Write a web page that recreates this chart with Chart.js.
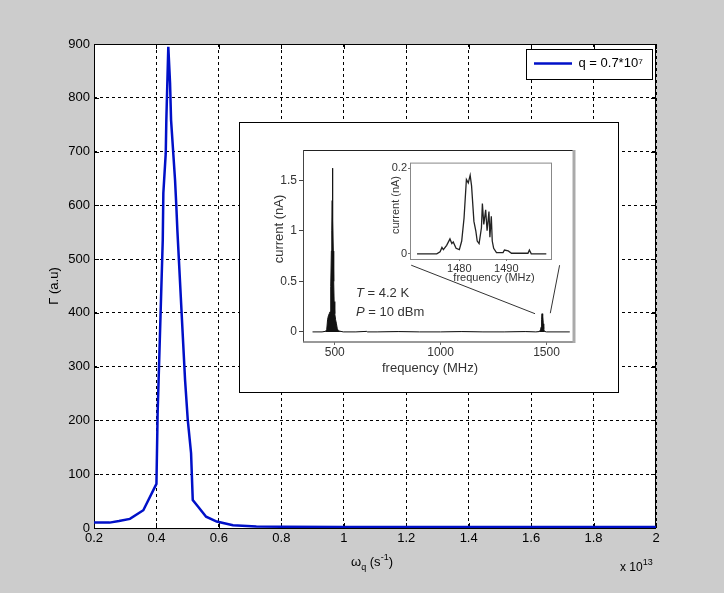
<!DOCTYPE html>
<html>
<head>
<meta charset="utf-8">
<script src="https://cdn.jsdelivr.net/npm/chart.js@4.4.0/dist/chart.umd.min.js"></script>
<style>
  body { margin: 0; background: #cccccc; }
  #wrap { position: relative; width: 724px; height: 593px; background: #cccccc; overflow: hidden;
          font-family: Arial, "Liberation Sans", sans-serif; }
  canvas { position: absolute; }
  #inset { position: absolute; left: 239px; top: 122px; width: 380px; height: 271px;
           box-sizing: border-box; border: 1px solid #000; background: #fff; }
  .t { position: absolute; white-space: nowrap; line-height: 1; }
  .c { transform: translate(-50%, -50%); }
  .r { transform: translate(-50%, -50%) rotate(-90deg); }
  sub { font-size: 9px; vertical-align: -4px; }
  sup { font-size: 9px; vertical-align: 6px; }
</style>
</head>
<body>
<div id="wrap">
  <canvas id="main" width="724" height="593" style="left:0;top:0"></canvas>
  <div id="inset"></div>
  <canvas id="spec" width="377" height="268" style="left:240px;top:123px"></canvas>
  <canvas id="zoomspec" width="180" height="130" style="left:380px;top:155px"></canvas>

  <div class="t c" style="left:372px;top:562px;font-size:13px;">&omega;<sub>q</sub> (s<sup>-1</sup>)</div>
  <div class="t" style="left:620px;top:558px;font-size:12px;">x 10<sup>13</sup></div>

  <div class="t r" style="left:278px;top:229px;font-size:13px;color:#333;">current (nA)</div>
  <div class="t c" style="left:430px;top:367px;font-size:13px;color:#333;">frequency (MHz)</div>
  <div class="t" style="left:356px;top:286px;font-size:13px;color:#333;"><i>T</i> = 4.2 K</div>
  <div class="t" style="left:356px;top:305px;font-size:13px;color:#333;"><i>P</i> = 10 dBm</div>
  <div class="t r" style="left:395px;top:205px;font-size:11px;color:#333;">current (nA)</div>
  <div class="t c" style="left:494px;top:277px;font-size:11px;color:#333;">frequency (MHz)</div>
</div>
<script>
// main curve: omega in units of 1e13 s^-1, Gamma in a.u.
const omega = [0.2, 0.25, 0.28, 0.315, 0.358, 0.4, 0.4038, 0.4202, 0.4221, 0.4298, 0.4317, 0.434,
  0.438, 0.44, 0.4436, 0.4468, 0.4542, 0.4596, 0.4638, 0.467, 0.4917, 0.5003, 0.5109, 0.5163,
  0.533, 0.559, 0.593, 0.645, 0.72, 0.8, 1.0, 2.0];
const gamma = [10, 10, 13, 17, 33, 82, 214, 535, 623, 697, 759, 809,
  895, 895, 827, 759, 694, 647, 597, 554, 275, 201, 139, 52,
  40, 21, 12, 5, 3, 2.5, 2, 2];
const seriesLabel = 'q = 0.7*10\u2077';

const xTickValues = [0.2, 0.4, 0.6, 0.8, 1.0, 1.2, 1.4, 1.6, 1.8, 2.0];
const xTickLabels = ['0.2', '0.4', '0.6', '0.8', '1', '1.2', '1.4', '1.6', '1.8', '2'];
const yTickValues = [0, 100, 200, 300, 400, 500, 600, 700, 800, 900];

// inset spectrum (frequency MHz, current nA)
const freq1 = [395, 440, 455, 462, 466, 470, 474, 478, 481, 484, 486, 488, 489, 490, 491, 493, 495, 497, 500, 504,
  508, 512, 518, 540, 600, 650, 655, 700, 800, 900, 1000, 1100, 1200, 1300, 1400, 1450, 1466, 1472, 1475, 1477,
  1479, 1481, 1483, 1485, 1487, 1490, 1500, 1610];
const cur1 = [0, 0, 0.005, 0.02, 0.12, 0.16, 0.18, 0.2, 0.45, 0.8, 1.0, 1.3, 1.62, 0.7, 1.1, 0.8, 0.5, 0.3, 0.18, 0.12,
  0.08, 0.03, 0.01, 0, 0, 0.005, 0, 0, 0.003, 0, 0, 0.003, 0, 0, 0.003, 0, 0.003, 0.02, 0.05, 0.12,
  0.18, 0.1, 0.15, 0.08, 0.03, 0.005, 0, 0];
const connLeftX = [861, 1446], connLeftY = [0.66, 0.18];
const connRightX = [1562, 1518], connRightY = [0.66, 0.185];
const spec1XTicks = [500, 1000, 1500];
const spec1XLabels = ['500', '1000', '1500'];
const spec1YTicks = [0, 0.5, 1, 1.5];
const spec1YLabels = ['0', '0.5', '1', '1.5'];

// zoomed spectrum around 1480 MHz
const freq2 = [1471, 1475.2, 1475.9, 1476.3, 1476.6, 1477.3, 1478.0, 1478.4, 1478.7, 1479.3,
  1480, 1480.5, 1481, 1481.5, 1481.9, 1482.3, 1482.6, 1483.1, 1483.5, 1483.8,
  1484.2, 1484.7, 1484.9, 1485.2, 1485.6, 1485.9, 1486.3, 1486.5, 1486.8, 1487,
  1487.3, 1487.9, 1489.3, 1489.6, 1490.4, 1491.1, 1494.6, 1494.9, 1495.3, 1498.5];
const cur2 = [0, 0, 0.005, 0.015, 0.01, 0.02, 0.035, 0.024, 0.028, 0.013,
  0.01, 0.03, 0.084, 0.174, 0.166, 0.184, 0.159, 0.076, 0.054, 0.03,
  0.024, 0.061, 0.118, 0.069, 0.103, 0.054, 0.099, 0.039, 0.088, 0.03,
  0.013, 0.003, 0.003, 0.009, 0.007, 0.0015, 0.0015, 0.009, 0, 0];
const spec2XTicks = [1480, 1490];
const spec2XLabels = ['1480', '1490'];
const spec2YTicks = [0, 0.2];
const spec2YLabels = ['0', '0.2'];

Chart.defaults.font.family = 'Arial, "Liberation Sans", sans-serif';

function toPts(xs, ys) {
  return xs.map((x, i) => ({ x: x, y: ys[i] }));
}
function fixedTicks(values) {
  return function (scale) { scale.ticks = values.map(v => ({ value: v })); };
}

// white plot area, black box and inward ticks like matlab
const mainFrame = {
  id: 'mainFrame',
  beforeDraw(chart) {
    const a = chart.chartArea, ctx = chart.ctx;
    ctx.save();
    ctx.fillStyle = '#fff';
    ctx.fillRect(a.left, a.top, a.width, a.height);
    ctx.restore();
  },
  beforeDatasetsDraw(chart) {
    const a = chart.chartArea, ctx = chart.ctx;
    const sx = chart.scales.x, sy = chart.scales.y;
    ctx.save();
    ctx.strokeStyle = '#000';
    ctx.lineWidth = 1;
    ctx.setLineDash([]);
    ctx.strokeRect(a.left + 0.5, a.top + 0.5, a.width - 1, a.height);
    ctx.beginPath();
    xTickValues.forEach(v => {
      const px = Math.round(sx.getPixelForValue(v)) + 0.5;
      ctx.moveTo(px, a.bottom); ctx.lineTo(px, a.bottom - 5);
      ctx.moveTo(px, a.top); ctx.lineTo(px, a.top + 5);
    });
    yTickValues.forEach(v => {
      const py = Math.round(sy.getPixelForValue(v)) + 0.5;
      ctx.moveTo(a.left, py); ctx.lineTo(a.left + 5, py);
      ctx.moveTo(a.right, py); ctx.lineTo(a.right - 5, py);
    });
    ctx.stroke();
    ctx.restore();
  }
};

// put the legend in the top right corner with a white framed box
const legendBox = { left: 526, top: 49, right: 652, bottom: 79 };
const legendPlace = {
  id: 'legendPlace',
  afterLayout(chart) {
    const lg = chart.legend;
    lg.left = legendBox.left; lg.top = legendBox.top;
    lg.right = legendBox.right; lg.bottom = legendBox.bottom;
    lg.width = legendBox.right - legendBox.left;
    lg.height = legendBox.bottom - legendBox.top;
  },
  afterDraw(chart) {
    const ctx = chart.ctx, b = legendBox;
    ctx.save();
    ctx.fillStyle = '#fff';
    ctx.fillRect(b.left, b.top, b.right - b.left, b.bottom - b.top);
    ctx.strokeStyle = '#000';
    ctx.lineWidth = 1;
    ctx.strokeRect(b.left + 0.5, b.top + 0.5, b.right - b.left, b.bottom - b.top);
    ctx.restore();
    chart.legend.draw();
  }
};

new Chart(document.getElementById('main'), {
  type: 'line',
  data: {
    datasets: [{
      label: seriesLabel,
      data: toPts(omega, gamma),
      borderColor: '#0010c8',
      backgroundColor: '#0010c8',
      borderWidth: 2.5,
      pointRadius: 0,
      tension: 0,
      fill: false
    }]
  },
  options: {
    responsive: false,
    animation: false,
    devicePixelRatio: 1,
    layout: { padding: { left: 0, top: 44, right: 68, bottom: 0 } },
    plugins: {
      tooltip: { enabled: false },
      legend: {
        position: 'chartArea',
        align: 'start',
        labels: {
          usePointStyle: true,
          pointStyle: 'line',
          pointStyleWidth: 38,
          padding: 8,
          color: '#000',
          font: { size: 13 }
        }
      }
    },
    scales: {
      x: {
        type: 'linear',
        min: 0.2,
        max: 2,
        afterFit(scale) { scale.height = 65; },
        afterBuildTicks: fixedTicks(xTickValues),
        ticks: {
          color: '#000',
          font: { size: 13 },
          padding: 3,
          maxRotation: 0,
          callback: (v, i) => xTickLabels[i]
        },
        grid: { color: '#000', lineWidth: 1, drawTicks: false },
        border: { display: false, dash: [3, 3] }
      },
      y: {
        min: 0,
        max: 900,
        afterFit(scale) { scale.width = 94; },
        afterBuildTicks: fixedTicks(yTickValues),
        ticks: { color: '#000', font: { size: 13 }, padding: 4 },
        grid: { color: '#000', lineWidth: 1, drawTicks: false },
        border: { display: false, dash: [3, 3] },
        title: {
          display: true,
          text: '\u0393 (a.u)',
          color: '#000',
          font: { size: 13 },
          padding: { top: 47, bottom: 0 }
        }
      }
    }
  },
  plugins: [mainFrame, legendPlace]
});

// frame of the scanned inset figure
const specFrame = {
  id: 'specFrame',
  beforeDatasetsDraw(chart) {
    const a = chart.chartArea, ctx = chart.ctx;
    ctx.save();
    ctx.lineWidth = 1;
    ctx.strokeStyle = '#222';
    ctx.beginPath(); ctx.moveTo(a.left, a.top + 0.5); ctx.lineTo(a.right, a.top + 0.5); ctx.stroke();
    ctx.strokeStyle = '#444';
    ctx.beginPath(); ctx.moveTo(a.left + 0.5, a.top); ctx.lineTo(a.left + 0.5, a.bottom); ctx.stroke();
    ctx.strokeStyle = '#777';
    ctx.lineWidth = 1.5;
    ctx.beginPath(); ctx.moveTo(a.left, a.bottom); ctx.lineTo(a.right, a.bottom); ctx.stroke();
    ctx.strokeStyle = '#aaa';
    ctx.lineWidth = 3;
    ctx.beginPath(); ctx.moveTo(a.right, a.top); ctx.lineTo(a.right, a.bottom + 1); ctx.stroke();
    ctx.restore();
  }
};

new Chart(document.getElementById('spec'), {
  type: 'line',
  data: {
    datasets: [
      {
        data: toPts(freq1, cur1),
        borderColor: '#111',
        backgroundColor: '#111',
        borderWidth: 1,
        pointRadius: 0,
        tension: 0,
        fill: 'origin'
      },
      { data: toPts(connLeftX, connLeftY), borderColor: '#333', borderWidth: 1, pointRadius: 0, fill: false },
      { data: toPts(connRightX, connRightY), borderColor: '#333', borderWidth: 1, pointRadius: 0, fill: false }
    ]
  },
  options: {
    responsive: false,
    animation: false,
    devicePixelRatio: 1,
    layout: { padding: { left: 0, top: 27, right: 43, bottom: 0 } },
    plugins: { legend: { display: false }, tooltip: { enabled: false } },
    scales: {
      x: {
        type: 'linear',
        min: 350,
        max: 1630,
        afterFit(scale) { scale.height = 49; },
        afterBuildTicks: fixedTicks(spec1XTicks),
        ticks: { color: '#333', font: { size: 12 }, padding: 0, maxRotation: 0, callback: (v, i) => spec1XLabels[i] },
        grid: { drawOnChartArea: false, drawTicks: true, tickLength: 3, color: '#666' },
        border: { display: false }
      },
      y: {
        min: -0.1,
        max: 1.8,
        afterFit(scale) { scale.width = 63; },
        afterBuildTicks: fixedTicks(spec1YTicks),
        ticks: { color: '#333', font: { size: 12 }, padding: 2, callback: (v, i) => spec1YLabels[i] },
        grid: { drawOnChartArea: false, drawTicks: true, tickLength: 4, color: '#444' },
        border: { display: false }
      }
    }
  },
  plugins: [specFrame]
});

const zoomFrame = {
  id: 'zoomFrame',
  beforeDraw(chart) {
    const a = chart.chartArea, ctx = chart.ctx;
    ctx.save();
    ctx.fillStyle = '#fff';
    ctx.fillRect(a.left, a.top, a.width, a.height);
    ctx.strokeStyle = '#888';
    ctx.lineWidth = 1;
    ctx.strokeRect(a.left + 0.5, a.top + 0.5, a.width, a.height);
    ctx.restore();
  }
};

new Chart(document.getElementById('zoomspec'), {
  type: 'line',
  data: {
    datasets: [{
      data: toPts(freq2, cur2),
      borderColor: '#222',
      borderWidth: 1.3,
      pointRadius: 0,
      tension: 0,
      fill: false
    }]
  },
  options: {
    responsive: false,
    animation: false,
    devicePixelRatio: 1,
    layout: { padding: { left: 0, top: 4, right: 9, bottom: 0 } },
    plugins: { legend: { display: false }, tooltip: { enabled: false } },
    scales: {
      x: {
        type: 'linear',
        min: 1469.5,
        max: 1499.5,
        afterFit(scale) { scale.height = 26; },
        afterBuildTicks: fixedTicks(spec2XTicks),
        ticks: { color: '#333', font: { size: 11 }, padding: 1, maxRotation: 0, callback: (v, i) => spec2XLabels[i] },
        grid: { drawOnChartArea: false, drawTicks: true, tickLength: 2, color: '#777' },
        border: { display: false }
      },
      y: {
        min: -0.012,
        max: 0.2135,
        afterFit(scale) { scale.width = 30; },
        afterBuildTicks: fixedTicks(spec2YTicks),
        ticks: { color: '#333', font: { size: 11 }, padding: 1, callback: (v, i) => spec2YLabels[i] },
        grid: { drawOnChartArea: false, drawTicks: true, tickLength: 2, color: '#777' },
        border: { display: false }
      }
    }
  },
  plugins: [zoomFrame]
});
</script>
</body>
</html>
